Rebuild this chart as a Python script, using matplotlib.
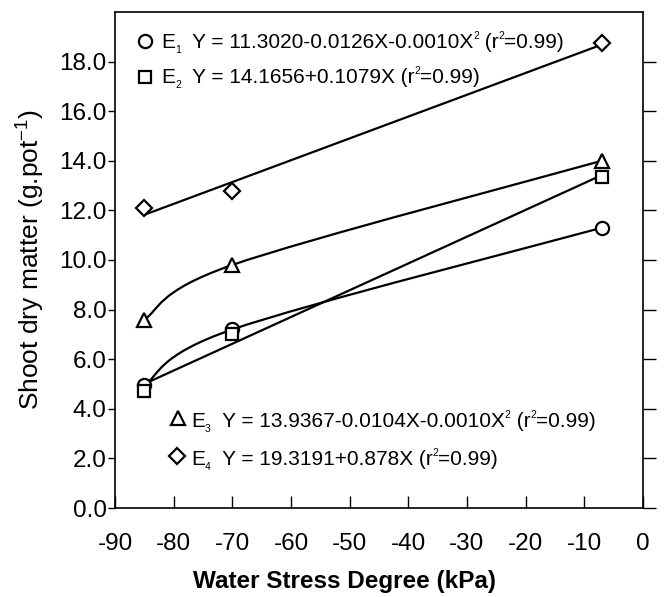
import numpy as np
import matplotlib
matplotlib.use("Agg")
import matplotlib.pyplot as plt
from matplotlib.path import Path
from matplotlib.patches import PathPatch
import matplotlib.lines as mlines

plt.rcParams['font.family'] = ['Liberation Sans', 'DejaVu Sans']
plt.rcParams['mathtext.fontset'] = 'custom'
plt.rcParams['mathtext.rm'] = 'Liberation Sans'
plt.rcParams['mathtext.it'] = 'Liberation Sans'

# ---- data ----
stress = [-85, -70, -7]
e1 = [4.95, 7.2, 11.3]
e2 = [4.7, 7.0, 13.35]
e3 = [7.6, 9.8, 14.0]
e4 = [12.1, 12.8, 18.75]

# equation labels as (text, kind) pieces: n = normal, b = subscript, p = superscript
label_e1 = [('E', 'n'), ('1', 'b'), ('  Y = 11.3020-0.0126X-0.0010X', 'n'), ('2', 'p'),
            (' (r', 'n'), ('2', 'p'), ('=0.99)', 'n')]
label_e2 = [('E', 'n'), ('2', 'b'), ('  Y = 14.1656+0.1079X (r', 'n'), ('2', 'p'),
            ('=0.99)', 'n')]
label_e3 = [('E', 'n'), ('3', 'b'), ('  Y = 13.9367-0.0104X-0.0010X', 'n'), ('2', 'p'),
            (' (r', 'n'), ('2', 'p'), ('=0.99)', 'n')]
label_e4 = [('E', 'n'), ('4', 'b'), ('  Y = 19.3191+0.878X (r', 'n'), ('2', 'p'),
            ('=0.99)', 'n')]
xticks = [-90, -80, -70, -60, -50, -40, -30, -20, -10, 0]
yticks = [0, 2, 4, 6, 8, 10, 12, 14, 16, 18]

DPI = 100
fig = plt.figure(figsize=(6.69, 5.97), dpi=DPI)
ax = fig.add_axes([0.172, 0.149, 0.789, 0.831])
renderer = fig.canvas.get_renderer()

LW = 1.6
mk = dict(markerfacecolor='white', markeredgecolor='black', markeredgewidth=1.6,
          linestyle='none', zorder=5)


def smooth_path(xs, ys):
    P = np.column_stack([xs, ys]).astype(float)
    n = len(P)
    verts = [P[0]]
    codes = [Path.MOVETO]
    for i in range(n - 1):
        pm = P[i - 1] if i > 0 else P[i]
        pp = P[i + 2] if i + 2 < n else P[i + 1]
        c1 = P[i] + (P[i + 1] - pm) / 6.0
        c2 = P[i + 1] - (pp - P[i]) / 6.0
        verts += [c1, c2, P[i + 1]]
        codes += [Path.CURVE4] * 3
    return Path(verts, codes)


for ys in (e1, e3):
    ax.add_patch(PathPatch(smooth_path(stress, ys), fill=False, edgecolor='black',
                           linewidth=LW, zorder=3))

for ys in (e2, e4):
    k, b = np.polyfit(stress, ys, 1)
    xx = np.array([stress[0], stress[-1]])
    ax.plot(xx, k * xx + b, color='black', linewidth=LW, zorder=3)

ax.plot(stress, e1, marker='o', markersize=9.5, **mk)
ax.plot(stress, e2, marker='s', markersize=8.5, **mk)
ax.plot(stress, e3, marker='^', markersize=10, **mk)
ax.plot(stress, e4, marker='D', markersize=8, **mk)

FS = 15


def rich_text(x, y, pieces):
    off = 0.0
    for s, kind in pieces:
        if kind == 'n':
            size, dy = FS, 0
        elif kind == 'b':
            size, dy = FS * 0.5, -FS * 0.25
        else:
            size, dy = FS * 0.5, FS * 0.45
        t = ax.annotate(s, xy=(x, y), xycoords='axes fraction', xytext=(off, dy),
                        textcoords='offset points', fontsize=size, va='baseline',
                        ha='left', annotation_clip=False)
        w = t.get_window_extent(renderer).width
        off += w * 72.0 / DPI


rows = [
    ('o', 9.5, 0.057, 0.942, label_e1, 0.087, 0.927),
    ('s', 8.5, 0.057, 0.869, label_e2, 0.087, 0.857),
    ('^', 10, 0.119, 0.181, label_e3, 0.144, 0.163),
    ('D', 8, 0.117, 0.105, label_e4, 0.144, 0.087),
]
for m, ms, mx, my, pieces, tx, ty in rows:
    ax.plot([mx], [my], marker=m, markersize=ms, transform=ax.transAxes,
            clip_on=False, **mk)
    rich_text(tx, ty, pieces)

ax.set_xlim(-90, 0)
ax.set_ylim(0, 20)
ax.set_xticks(xticks)
ax.set_xticklabels([str(v) for v in xticks])
ax.set_yticks(yticks)
ax.set_yticklabels(['%.1f' % v for v in yticks])

ax.tick_params(axis='x', direction='in', length=9, width=1, labelsize=17.5, pad=18)
ax.tick_params(axis='y', direction='out', length=5, width=1, labelsize=17.5, pad=1,
               right=True)
for t in ax.yaxis.get_major_ticks():
    t.tick2line.set_marker(mlines.TICKRIGHT)
    t.tick2line.set_markersize(9)
for s in ax.spines.values():
    s.set_linewidth(1.2)

ax.set_xlabel('Water Stress Degree (kPa)', fontsize=17.5, fontweight='bold',
              labelpad=11, x=0.434)
ax.set_ylabel(r'Shoot dry matter (g.pot$^{-1}$)', fontsize=19, labelpad=9)

fig.savefig('out.png', dpi=DPI)
